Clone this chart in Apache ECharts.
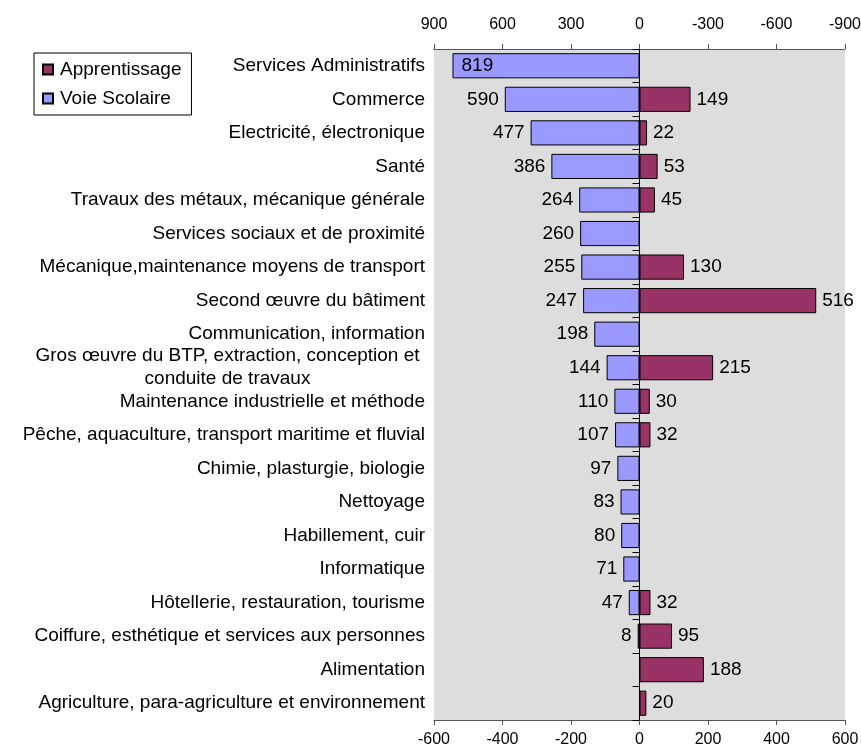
<!DOCTYPE html>
<html>
<head>
<meta charset="utf-8">
<script src="https://cdn.jsdelivr.net/npm/echarts@6/dist/echarts.min.js"></script>
<style>
  html, body { margin: 0; padding: 0; background: #fff; }
  #chart { width: 861px; height: 749px; }
</style>
</head>
<body>
<div id="chart"></div>
<script>
// categories, top to bottom
var categories = [
  'Services Administratifs',
  'Commerce',
  'Electricité, électronique',
  'Santé',
  'Travaux des métaux, mécanique générale',
  'Services sociaux et de proximité',
  'Mécanique,maintenance moyens de transport',
  'Second œuvre du bâtiment',
  'Communication, information',
  'Gros œuvre du BTP, extraction, conception et\nconduite de travaux',
  'Maintenance industrielle et méthode',
  'Pêche, aquaculture, transport maritime et fluvial',
  'Chimie, plasturgie, biologie',
  'Nettoyage',
  'Habillement, cuir',
  'Informatique',
  'Hôtellerie, restauration, tourisme',
  'Coiffure, esthétique et services aux personnes',
  'Alimentation',
  'Agriculture, para-agriculture et environnement'
];
// Voie Scolaire (drawn to the left, top axis)
var voieScolaire = [819, 590, 477, 386, 264, 260, 255, 247, 198, 144, 110, 107, 97, 83, 80, 71, 47, 8, null, null];
// Apprentissage (drawn to the right, bottom axis)
var apprentissage = [null, 149, 22, 53, 45, null, 130, 516, null, 215, 30, 32, null, null, null, null, 32, 95, 188, 20];

var font = 'Liberation Sans, Arial, sans-serif';

var myChart = echarts.init(document.getElementById('chart'));

myChart.setOption({
  animation: false,
  textStyle: { fontFamily: font },
  legend: {
    orient: 'vertical',
    left: 34,
    top: 53,
    width: 154,
    padding: [7, 10, 7, 8],
    itemGap: 10,
    itemWidth: 10,
    itemHeight: 10,
    icon: 'rect',
    backgroundColor: '#fff',
    borderColor: '#000',
    borderWidth: 1,
    textStyle: { fontSize: 19, color: '#000', fontFamily: font, padding: [0, 0, 0, 2] },
    data: ['Apprentissage', 'Voie Scolaire']
  },
  grid: {
    left: 434,
    right: 16,
    top: 49,
    bottom: 29,
    outerBoundsMode: 'none',
    containLabel: false,
    backgroundColor: '#dddddd',
    show: true,
    borderWidth: 0
  },
  xAxis: [
    {
      type: 'value',
      position: 'bottom',
      min: -600,
      max: 600,
      interval: 200,
      splitLine: { show: false },
      axisLine: { show: true, lineStyle: { color: '#555' } },
      axisTick: { show: true, length: 5, lineStyle: { color: '#555' } },
      axisLabel: { fontSize: 16, color: '#000', margin: 12, fontFamily: font }
    },
    {
      type: 'value',
      position: 'top',
      min: -900,
      max: 900,
      interval: 300,
      inverse: true,
      splitLine: { show: false },
      axisLine: { show: true, lineStyle: { color: '#555' } },
      axisTick: { show: true, length: 5, lineStyle: { color: '#555' } },
      axisLabel: { fontSize: 16, color: '#000', margin: 16, fontFamily: font }
    }
  ],
  yAxis: {
    type: 'category',
    inverse: true,
    data: categories,
    axisLine: { show: true, onZero: true, lineStyle: { color: '#000' } },
    axisTick: { show: true, length: 7, lineStyle: { color: '#000' } },
    axisLabel: {
      fontSize: 19,
      color: '#000',
      fontFamily: font,
      margin: 9,
      lineHeight: 23,
      formatter: function (v) {
        if (v.indexOf('\n') >= 0) {
          var parts = v.split('\n');
          return '{c|' + parts[0] + '}\n{c|' + parts[1] + '}';
        }
        return v;
      },
      rich: {
        c: { fontSize: 19, fontFamily: font, color: '#000', width: 395, align: 'center', lineHeight: 23 }
      }
    }
  },
  series: [
    {
      name: 'Apprentissage',
      type: 'bar',
      xAxisIndex: 0,
      data: apprentissage,
      barWidth: '75%',
      barGap: '-100%',
      itemStyle: { color: '#993366', borderColor: '#000', borderWidth: 1 },
      label: { show: true, position: 'right', distance: 6, fontSize: 19, color: '#000', fontFamily: font }
    },
    {
      name: 'Voie Scolaire',
      type: 'bar',
      xAxisIndex: 1,
      data: voieScolaire.map(function (v, i) {
        if (i === 0) {
          return { value: v, label: { position: 'insideLeft', distance: 9 } };
        }
        return v;
      }),
      barWidth: '75%',
      barGap: '-100%',
      itemStyle: { color: '#9999ff', borderColor: '#000', borderWidth: 1 },
      label: { show: true, position: 'left', distance: 6, fontSize: 19, color: '#000', fontFamily: font }
    }
  ]
});
</script>
</body>
</html>
